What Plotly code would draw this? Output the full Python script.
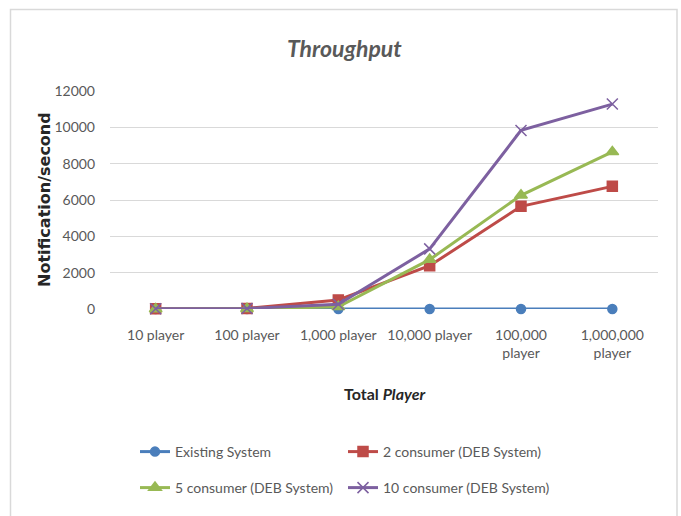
import plotly.graph_objects as go

categories = ["10 player", "100 player", "1,000 player", "10,000 player",
              "100,000<br>player", "1,000,000<br>player"]
existing = [0, 0, 0, 0, 0, 0]
consumer2 = [20, 30, 500, 2380, 5650, 6750]
consumer5 = [5, 15, 120, 2720, 6260, 8650]
consumer10 = [10, 30, 260, 3310, 9830, 11280]
y_ticks = [0, 2000, 4000, 6000, 8000, 10000, 12000]
y_labels = [str(v) for v in y_ticks]

W, H = 681, 516
L, R, T, B = 110, 23, 91, 207
pw, ph = W - L - R, H - T - B

def px(x):
    return (x - L) / pw

def py(y):
    return (H - B - y) / ph

FONT = "Lato, Liberation Sans, sans-serif"
GRAY = "#595959"

fig = go.Figure()
series = [
    ("Existing System", existing, "#4A7EBB", "circle", 9, "legend", 135, 452),
    ("2 consumer (DEB System)", consumer2, "#BE4B48", "square", 10, "legend2", 343, 452),
    ("5 consumer (DEB System)", consumer5, "#98B954", "triangle-up", 11, "legend3", 135, 488),
    ("10 consumer (DEB System)", consumer10, "#7D60A0", "x-thin", 11, "legend4", 343, 488),
]
legends = {}
for name, vals, col, sym, sz, lg, lx, ly in series:
    fig.add_trace(go.Scatter(
        x=categories, y=vals, name=name, mode="lines+markers",
        line=dict(color=col, width=3),
        marker=dict(color=col, symbol=sym, size=sz,
                    line=dict(color=col, width=1.5)),
        cliponaxis=False, legend=lg,
    ))
    legends[lg] = dict(orientation="h", x=px(lx), y=py(ly), xanchor="left",
                       yanchor="middle", font=dict(family=FONT, size=14, color=GRAY),
                       bgcolor="rgba(0,0,0,0)", borderwidth=0)

fig.update_layout(
    width=W, height=H,
    margin=dict(l=L, r=R, t=T, b=B),
    paper_bgcolor="white", plot_bgcolor="white",
    font=dict(family=FONT, size=14, color=GRAY),
    showlegend=True,
    xaxis=dict(type="category", range=[-0.5, len(categories) - 0.5],
               showgrid=False, zeroline=False, showline=False,
               ticks="", tickfont=dict(family=FONT, size=14, color=GRAY),
               ticklabelstandoff=16),
    yaxis=dict(range=[0, 12000], tickvals=y_ticks, ticktext=y_labels,
               showgrid=True, gridcolor="#D9D9D9",
               gridwidth=1, zeroline=False, showline=False, ticks="",
               tickfont=dict(family=FONT, size=14, color=GRAY),
               ticklabelstandoff=14),
    **legends,
)

fig.add_annotation(text="<b><i>Throughput</i></b>", x=px(344), y=py(48),
                   xref="paper", yref="paper", showarrow=False,
                   xanchor="center", yanchor="middle",
                   font=dict(family=FONT, size=23, color=GRAY))
fig.add_annotation(text="<b>Notification/second</b>", x=px(44), y=py(200),
                   xref="paper", yref="paper", showarrow=False, textangle=-90,
                   xanchor="center", yanchor="middle",
                   font=dict(family="DejaVu Sans", size=16, color="#262626"))
fig.add_annotation(text="<b>Total <i>Player</i></b>", x=px(384), y=py(393),
                   xref="paper", yref="paper", showarrow=False,
                   xanchor="center", yanchor="middle",
                   font=dict(family=FONT, size=16, color="#262626"))
fig.add_shape(type="rect", xref="paper", yref="paper",
              x0=px(10.5), x1=px(677), y0=py(530), y1=py(9.5),
              line=dict(color="#D9D9D9", width=1.5), fillcolor="rgba(0,0,0,0)",
              layer="below")

fig.write_html("out.html")
